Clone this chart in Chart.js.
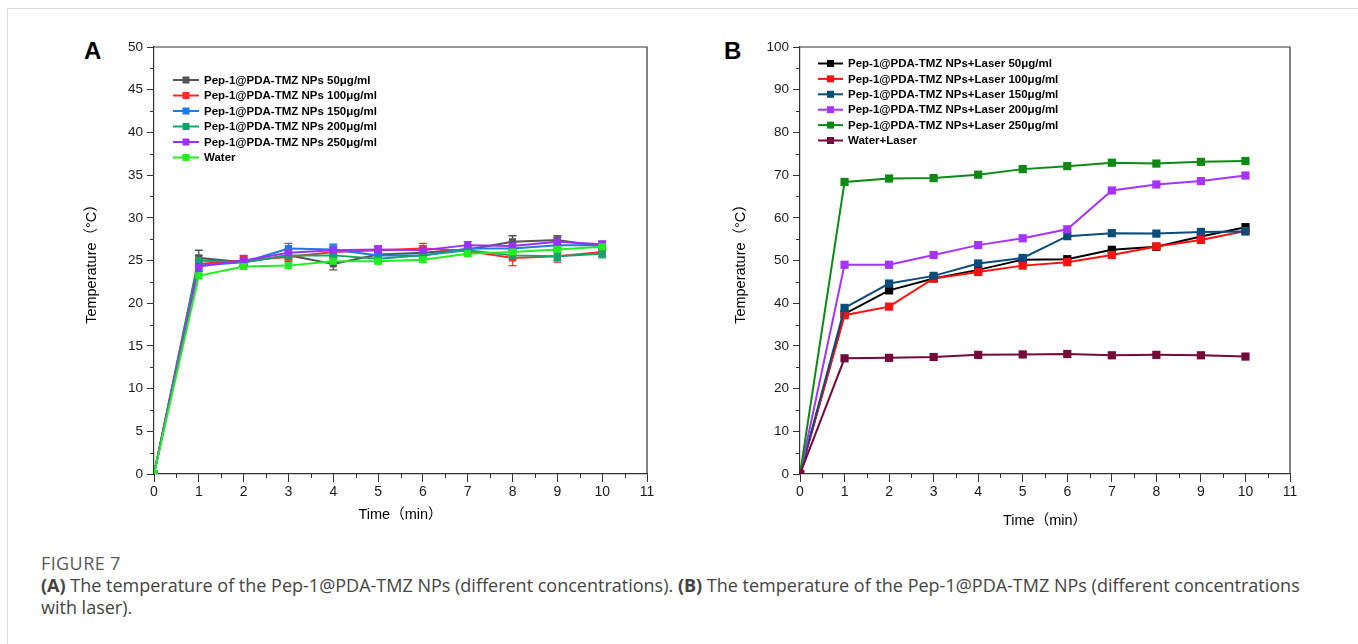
<!DOCTYPE html>
<html>
<head>
<meta charset="utf-8">
<script src="https://cdn.jsdelivr.net/npm/chart.js@4.4.1/dist/chart.umd.min.js"></script>
<style>
  body { margin: 0; width: 1358px; height: 644px; background: #fff; position: relative; overflow: hidden; }
  canvas { position: absolute; top: 0; }
  #chartA { left: 0; }
  #chartB { left: 679px; }
  .panel { position: absolute; font: bold 24px "Liberation Sans", Arial, sans-serif; color: #000; }
  .topline { position: absolute; left: 7px; right: 0; top: 8px; height: 1px; background: #dcdcdc; }
  .leftline { position: absolute; left: 7px; top: 8px; bottom: 0; width: 1px; background: #dcdcdc; }
  .caption { position: absolute; left: 41px; top: 552px; font-family: "Open Sans", "Noto Sans", sans-serif; font-size: 18px; line-height: 22px; color: #444; white-space: nowrap; }
  .caption .fig { color: #5a5a5a; font-size: 18px; letter-spacing: 0.4px; }
</style>
</head>
<body>
<div class="topline"></div>
<div class="leftline"></div>
<div class="panel" style="left:84px; top:37px;">A</div>
<div class="panel" style="left:724px; top:37px;">B</div>
<canvas id="chartA" width="679" height="540"></canvas>
<canvas id="chartB" width="679" height="540"></canvas>
<div class="caption">
  <div class="fig">FIGURE 7</div>
  <div><b>(A)</b> The temperature of the Pep-1@PDA-TMZ NPs (different concentrations). <b>(B)</b> The temperature of the Pep-1@PDA-TMZ NPs (different concentrations</div>
  <div>with laser).</div>
</div>
<script>
const times = [0, 1, 2, 3, 4, 5, 6, 7, 8, 9, 10];

// panel A: no laser
const labelsA = [
  "Pep-1@PDA-TMZ NPs 50μg/ml",
  "Pep-1@PDA-TMZ NPs 100μg/ml",
  "Pep-1@PDA-TMZ NPs 150μg/ml",
  "Pep-1@PDA-TMZ NPs 200μg/ml",
  "Pep-1@PDA-TMZ NPs 250μg/ml",
  "Water",
];
const colorsA = ["#555555", "#ff2a2a", "#1f7ae6", "#12a46c", "#9b30ff", "#20ee20"];
const np50A = [0, 25.3, 24.8, 25.6, 24.6, 25.7, 25.9, 26.3, 27.2, 27.4, 26.6];
const np100A = [0, 24.6, 25.0, 25.4, 26.0, 26.2, 26.4, 26.1, 25.3, 25.5, 26.0];
const np150A = [0, 24.4, 24.8, 26.4, 26.3, 25.6, 25.6, 26.4, 26.4, 26.8, 26.8];
const np200A = [0, 25.0, 24.8, 25.6, 25.6, 25.2, 25.6, 26.2, 25.6, 25.5, 25.8];
const np250A = [0, 24.3, 25.0, 25.9, 26.2, 26.3, 26.2, 26.8, 26.7, 27.2, 26.9];
const waterA = [0, 23.2, 24.3, 24.4, 24.9, 24.9, 25.1, 25.8, 26.0, 26.3, 26.6];
const err50A = [0, 0.9, 0.5, 0.5, 0.7, 0.5, 0.6, 0.5, 0.7, 0.5, 0.4];
const err100A = [0, 0.5, 0.5, 0.5, 0.5, 0.5, 0.6, 0.4, 0.9, 0.7, 0.5];
const err150A = [0, 0.6, 0.4, 0.6, 0.6, 0.4, 0.4, 0.4, 0.5, 0.4, 0.4];
const err200A = [0, 0.6, 0.4, 0.4, 0.4, 0.4, 0.4, 0.4, 0.5, 0.5, 0.5];
const err250A = [0, 0.6, 0.6, 0.5, 0.5, 0.4, 0.5, 0.4, 0.5, 0.5, 0.4];
const errWaterA = [0, 0.3, 0.3, 0.3, 0.3, 0.3, 0.3, 0.3, 0.3, 0.3, 0.3];

// panel B: with laser
const labelsB = [
  "Pep-1@PDA-TMZ NPs+Laser 50μg/ml",
  "Pep-1@PDA-TMZ NPs+Laser 100μg/ml",
  "Pep-1@PDA-TMZ NPs+Laser 150μg/ml",
  "Pep-1@PDA-TMZ NPs+Laser 200μg/ml",
  "Pep-1@PDA-TMZ NPs+Laser 250μg/ml",
  "Water+Laser",
];
const colorsB = ["#000000", "#ff1010", "#0b4c7a", "#a633ff", "#0e8a14", "#75093a"];
const np50B = [0, 37.5, 43.0, 45.8, 47.8, 50.2, 50.3, 52.5, 53.2, 55.6, 57.8];
const np100B = [0, 37.2, 39.2, 45.8, 47.3, 48.8, 49.6, 51.3, 53.3, 54.8, 56.9];
const np150B = [0, 38.9, 44.6, 46.4, 49.3, 50.6, 55.7, 56.4, 56.3, 56.7, 56.8];
const np200B = [0, 49.0, 49.0, 51.3, 53.6, 55.2, 57.3, 66.4, 67.8, 68.6, 69.9];
const np250B = [0, 68.4, 69.2, 69.3, 70.1, 71.4, 72.1, 72.9, 72.7, 73.1, 73.3];
const waterB = [0, 27.1, 27.2, 27.4, 27.9, 28.0, 28.1, 27.8, 27.9, 27.8, 27.5];

const axisColor = "#333";
const sans = '"Liberation Sans", Arial, "Noto Sans CJK SC", sans-serif';

// error bars drawn under the markers
const errorBars = {
  id: "errorBars",
  beforeDatasetsDraw(chart) {
    const { ctx, scales: { x, y } } = chart;
    chart.data.datasets.forEach((ds) => {
      if (!ds.err) return;
      ctx.save();
      ctx.strokeStyle = ds.borderColor;
      ctx.lineWidth = 1.3;
      ds.data.forEach((p, i) => {
        const e = ds.err[i];
        if (!e) return;
        const px = x.getPixelForValue(p.x);
        const top = y.getPixelForValue(p.y + e);
        const bot = y.getPixelForValue(p.y - e);
        ctx.beginPath();
        ctx.moveTo(px, top); ctx.lineTo(px, bot);
        ctx.moveTo(px - 4, top); ctx.lineTo(px + 4, top);
        ctx.moveTo(px - 4, bot); ctx.lineTo(px + 4, bot);
        ctx.stroke();
      });
      ctx.restore();
    });
  },
};

// top/right frame and the short minor ticks
const frame = {
  id: "frame",
  afterDraw(chart, args, opts) {
    const { ctx, chartArea: a, scales: { x, y } } = chart;
    ctx.save();
    ctx.strokeStyle = axisColor;
    ctx.lineWidth = 1.2;
    ctx.beginPath();
    ctx.moveTo(a.left, a.top);
    ctx.lineTo(a.right, a.top);
    ctx.lineTo(a.right, a.bottom);
    ctx.stroke();
    ctx.lineWidth = 1;
    ctx.beginPath();
    for (let v = x.min + opts.xMinor; v < x.max; v += 2 * opts.xMinor) {
      const px = Math.round(x.getPixelForValue(v)) + 0.5;
      ctx.moveTo(px, a.bottom); ctx.lineTo(px, a.bottom + 4);
    }
    for (let v = y.min + opts.yMinor; v < y.max; v += 2 * opts.yMinor) {
      const py = Math.round(y.getPixelForValue(v)) + 0.5;
      ctx.moveTo(a.left, py); ctx.lineTo(a.left - 4, py);
    }
    ctx.stroke();
    ctx.restore();
  },
};

// legend drawn inside the plot area
const inLegend = {
  id: "inLegend",
  afterDraw(chart, args, opts) {
    const { ctx } = chart;
    ctx.save();
    ctx.font = "bold 11.5px " + sans;
    ctx.textBaseline = "middle";
    chart.data.datasets.forEach((ds, i) => {
      const y = opts.y + i * opts.gap;
      ctx.strokeStyle = ds.borderColor;
      ctx.lineWidth = 2;
      ctx.beginPath();
      ctx.moveTo(opts.x, y);
      ctx.lineTo(opts.x + opts.len, y);
      ctx.stroke();
      ctx.fillStyle = ds.borderColor;
      ctx.fillRect(opts.x + opts.len / 2 - 3.5, y - 3.5, 7, 7);
      ctx.fillStyle = "#000";
      ctx.fillText(ds.label, opts.x + opts.len + 5, y + 0.5);
    });
    ctx.restore();
  },
};

function makeDatasets(labels, colors, values, errs, radius) {
  return labels.map((label, i) => ({
    label: label,
    data: times.map((t, j) => ({ x: t, y: values[i][j] })),
    err: errs ? errs[i] : null,
    borderColor: colors[i],
    backgroundColor: colors[i],
    borderWidth: 2,
    pointStyle: "rect",
    pointRadius: radius,
    pointBorderWidth: 0,
    order: labels.length - i,
  }));
}

function makeChart(id, datasets, cfg) {
  return new Chart(document.getElementById(id), {
    type: "line",
    data: { datasets: datasets },
    plugins: [errorBars, frame, inLegend],
    options: {
      responsive: false,
      animation: false,
      devicePixelRatio: 1,
      layout: { padding: { left: 0, top: 47, right: cfg.padRight, bottom: 0 } },
      plugins: {
        legend: { display: false },
        tooltip: { enabled: false },
        frame: { xMinor: 0.5, yMinor: cfg.yStep / 2 },
        inLegend: cfg.legend,
      },
      scales: {
        x: {
          type: "linear",
          min: 0,
          max: 11,
          afterFit: (s) => { s.height = 66; },
          ticks: { stepSize: 1, color: "#1a1a1a", padding: 2, font: { family: sans, size: 14 } },
          grid: { drawOnChartArea: false, drawTicks: true, tickLength: 8, color: axisColor },
          border: { color: axisColor, width: 1.2 },
          title: {
            display: true,
            text: "Time（min）",
            color: "#000",
            font: { family: sans, size: 14.5 },
            padding: { top: 0, bottom: cfg.xTitlePad },
          },
        },
        y: {
          min: 0,
          max: cfg.yMax,
          afterFit: (s) => { s.width = cfg.yWidth; },
          ticks: { stepSize: cfg.yStep, color: "#1a1a1a", padding: 4, font: { family: sans, size: 13.5 } },
          grid: { drawOnChartArea: false, drawTicks: true, tickLength: 7, color: axisColor },
          border: { color: axisColor, width: 1.2 },
          title: {
            display: true,
            text: "Temperature（°C）",
            color: "#000",
            font: { family: sans, size: 14.5 },
            padding: { top: cfg.yTitlePad, bottom: 0 },
          },
        },
      },
    },
  });
}

makeChart(
  "chartA",
  makeDatasets(labelsA, colorsA, [np50A, np100A, np150A, np200A, np250A, waterA],
    [err50A, err100A, err150A, err200A, err250A, errWaterA], 5),
  { yMax: 50, yStep: 5, yWidth: 154, padRight: 32, xTitlePad: 16.3, yTitlePad: 83.3,
    legend: { x: 173, y: 80, gap: 15.5, len: 26 } }
);

makeChart(
  "chartB",
  makeDatasets(labelsB, colorsB, [np50B, np100B, np150B, np200B, np250B, waterB], null, 5.8),
  { yMax: 100, yStep: 10, yWidth: 121, padRight: 68, xTitlePad: 10.3, yTitlePad: 53.3,
    legend: { x: 139, y: 63.5, gap: 15.4, len: 25 } }
);
</script>
</body>
</html>
